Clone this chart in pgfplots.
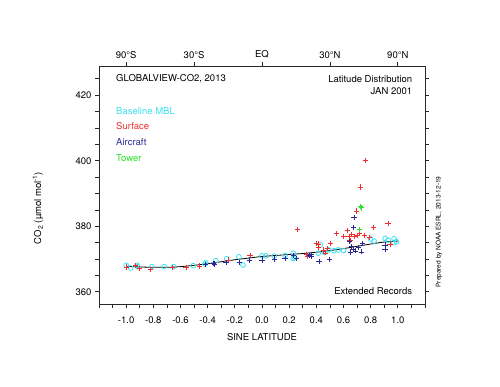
\documentclass[border=0pt]{standalone}
\usepackage{fontspec}
\setmainfont{TeX Gyre Heros}
\usepackage{pgfplots}
\pgfplotsset{compat=1.18}
\definecolor{colMBL}{RGB}{60,225,240}
\definecolor{colSurf}{RGB}{240,45,45}
\definecolor{colAir}{RGB}{40,40,150}
\definecolor{colTower}{RGB}{40,225,40}
\definecolor{axgray}{RGB}{40,40,40}
\newcommand{\fs}{\fontsize{9.5}{11}\selectfont}
\begin{document}
\begin{tikzpicture}[x=1pt,y=1pt]
\useasboundingbox (0,0) rectangle (500,386);
\begin{axis}[at={(99pt,82pt)}, anchor=south west, width=326pt, height=238pt, scale only axis,
  xmin=-1.2, xmax=1.2, ymin=356.3, ymax=428.9,
  axis line style={axgray, line width=0.8pt},
  tick style={axgray, line width=0.8pt},
  tick align=outside, major tick length=4pt, minor tick length=4pt,
  xtick={-1,-0.8,...,1.01}, minor xtick={-1.2,-1.1,...,1.21},
  xtick pos=bottom,
  xticklabel style={/pgf/number format/fixed, /pgf/number format/fixed zerofill, /pgf/number format/precision=1},
  ytick={360,380,400,420}, minor ytick={360,365,...,425},
  ytick pos=both, yticklabel pos=left,
  /pgf/number format/assume math mode=true,
  ticklabel style={font=\fs},
  xticklabel style={yshift=-5pt},
  xlabel={SINE LATITUDE}, xlabel style={font=\fs, yshift=-3pt},
  clip=false,
]
\addplot[color=black, line width=0.8pt, smooth] coordinates {
(-1.0,367.8) (-0.9,367.6) (-0.8,367.5) (-0.7,367.5) (-0.6,367.7) (-0.5,368.1) (-0.4,368.6) (-0.3,369.2) (-0.2,369.8) (-0.1,370.3) (0.0,370.8) (0.1,371.1) (0.2,371.4) (0.3,371.7) (0.4,372.1) (0.5,372.6) (0.6,373.2) (0.7,373.9) (0.8,374.6) (0.9,375.2) (1.0,375.5)};
\addplot[only marks, mark=o, mark size=2.4pt, color=colMBL, line width=0.8pt] coordinates {
(-1.0,368.1) (-0.967,367.3) (-0.92,368.1) (-0.915,367.7) (-0.81,367.7) (-0.72,367.7) (-0.65,367.7) (-0.506,368.0) (-0.414,368.9) (-0.42,368.5) (-0.34,369.5) (-0.26,370.1) (-0.17,370.7) (-0.14,368.2) (0.0,371.0) (0.03,371.0) (0.09,370.9) (0.17,371.1) (0.23,370.2) (0.23,371.8) (0.24,370.5) (0.43,374.3) (0.415,371.8) (0.46,372.0) (0.49,372.8) (0.53,372.6) (0.56,372.8) (0.60,372.6) (0.80,376.1) (0.825,375.5) (0.906,376.3) (0.928,375.8) (0.972,376.2) (0.99,375.3) (0.97,375.0)};
\addplot[only marks, mark=+, mark size=2.6pt, color=colSurf, line width=0.7pt] coordinates {
(-1.0,367.6) (-0.93,368.1) (-0.90,367.1) (-0.82,366.9) (-0.657,367.4) (-0.56,367.5) (-0.46,367.9) (-0.25,369.7) (-0.088,371.2) (0.26,379.0) (0.325,371.5) (0.334,370.7) (0.40,374.8) (0.413,374.6) (0.415,373.6) (0.47,371.9) (0.45,372.8) (0.48,373.2) (0.506,374.8) (0.55,377.7) (0.6,376.8) (0.628,378.7) (0.64,376.8) (0.648,375.6) (0.68,376.8) (0.70,377.3) (0.697,384.7) (0.727,392.0) (0.759,400.0) (0.756,377.1) (0.79,376.6) (0.82,379.6) (0.928,380.9) (0.943,374.6) (0.72,378.0) (0.66,377.5)};
\addplot[only marks, mark=+, mark size=2.6pt, color=colAir, line width=0.7pt] coordinates {
(-0.417,368.3) (-0.36,368.7) (-0.35,368.5) (-0.265,368.9) (-0.167,368.9) (-0.093,369.7) (0.0,369.7) (0.09,370.0) (0.17,370.2) (0.23,371.2) (0.256,370.2) (0.36,371.5) (0.36,370.7) (0.42,369.2) (0.495,369.9) (0.643,375.3) (0.673,379.7) (0.678,382.6) (0.74,374.8) (0.65,372.0) (0.67,373.0) (0.69,372.5) (0.71,373.5) (0.73,372.2) (0.906,374.3) (0.906,373.0) (0.66,373.8) (0.35,371.0)};
\addplot[only marks, mark=+, mark size=2.6pt, color=colTower, line width=1pt] coordinates {
(0.727,386.0) (0.73,385.6) (0.717,379.0)};
\end{axis}
\begin{axis}[at={(99pt,82pt)}, anchor=south west, width=326pt, height=238pt, scale only axis,
  xmin=-1.2, xmax=1.2, ymin=356.3, ymax=428.9,
  axis x line*=top, hide y axis,
  axis line style={axgray, line width=0.8pt},
  tick style={axgray, line width=0.8pt},
  tick align=outside, major tick length=4pt,
  xtick={-1,-0.5,0,0.5,1},
  xticklabels={90°S,30°S,EQ,30°N,90°N},
  ticklabel style={font=\fs},
]
\addplot[draw=none] coordinates {(0,370)};
\end{axis}
\node[anchor=west, font=\fs] at (112.7,{386-78.3}) {GLOBALVIEW-CO2, 2013};
\node[anchor=east, font=\fs] at (415.7,{386-79}) {Latitude Distribution};
\node[anchor=east, font=\fs] at (415.7,{386-91.5}) {JAN 2001};
\node[anchor=west, font=\fs, text=colMBL] at (112.7,{386-110.7}) {Baseline MBL};
\node[anchor=west, font=\fs, text=colSurf] at (112.7,{386-126}) {Surface};
\node[anchor=west, font=\fs, text=colAir] at (112.7,{386-141.7}) {Aircraft};
\node[anchor=west, font=\fs, text=colTower] at (112.7,{386-157.7}) {Tower};
\node[anchor=east, font=\fs] at (415.7,{386-291}) {Extended Records};
\node[rotate=90, font=\fs] at (38,{386-208}) {CO\textsubscript{2} (µmol mol\textsuperscript{-1})};
\node[rotate=90, font=\fontsize{6.5}{8}\selectfont] at (439,{386-232}) {Prepared by NOAA ESRL, 2013-12-19};
\end{tikzpicture}
\end{document}
